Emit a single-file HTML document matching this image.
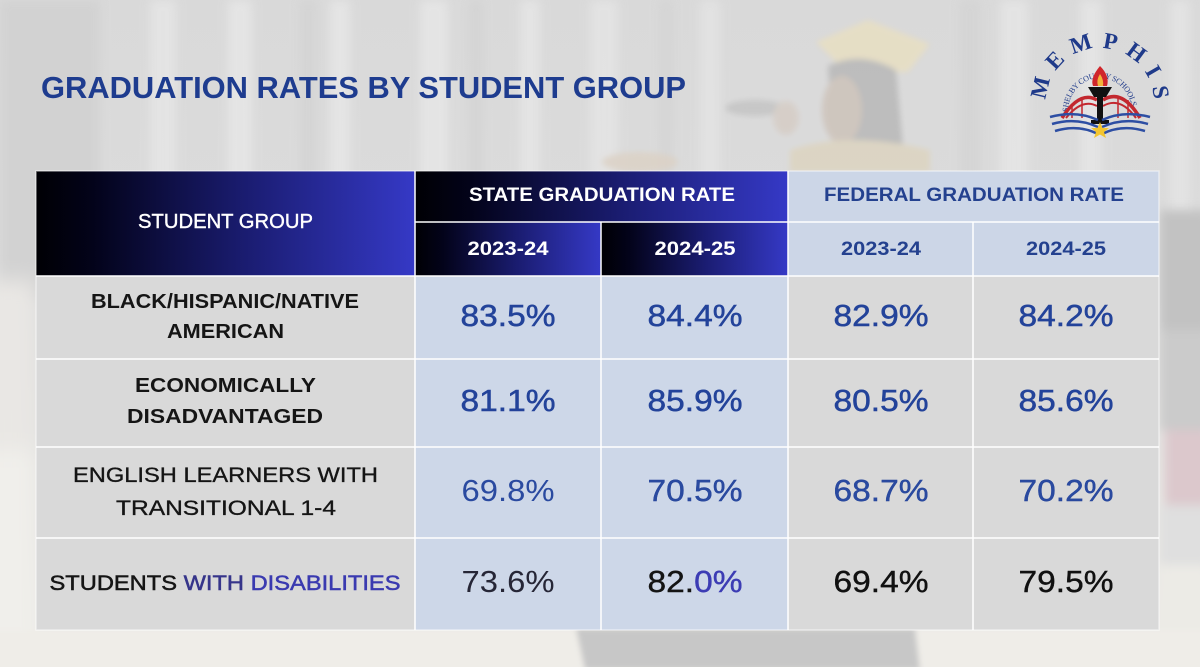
<!DOCTYPE html>
<html>
<head>
<meta charset="utf-8">
<style>
  html,body{margin:0;padding:0;background:#dcdcdc;}
  svg{display:block;}
  .lab{font-family:"Liberation Sans",sans-serif;font-weight:bold;fill:#151515;font-size:20px;}
  .labn{font-family:"Liberation Sans",sans-serif;font-weight:normal;fill:#151515;font-size:21px;stroke:#151515;stroke-width:0.35px;}
  .val{font-family:"Liberation Sans",sans-serif;font-size:31px;fill:#23439a;}
  .hd{font-family:"Liberation Sans",sans-serif;font-weight:bold;font-size:19px;fill:#ffffff;}
  .hdb{font-family:"Liberation Sans",sans-serif;font-weight:bold;font-size:19px;fill:#24418f;}
</style>
</head>
<body>
<svg width="1200" height="667" viewBox="0 0 1200 667" xmlns="http://www.w3.org/2000/svg">
  <defs>
    <linearGradient id="bgv" x1="0" y1="0" x2="0" y2="1">
      <stop offset="0" stop-color="#d9d9d9"/>
      <stop offset="0.45" stop-color="#dcdcdc"/>
      <stop offset="0.75" stop-color="#e7e6e3"/>
      <stop offset="1" stop-color="#eeece8"/>
    </linearGradient>
    <linearGradient id="dk" x1="0" y1="0" x2="1" y2="0">
      <stop offset="0" stop-color="#000004"/>
      <stop offset="0.15" stop-color="#03031a"/>
      <stop offset="0.55" stop-color="#1a1c70"/>
      <stop offset="1" stop-color="#3539c6"/>
    </linearGradient>
    <filter id="b6" x="-20%" y="-20%" width="140%" height="140%"><feGaussianBlur stdDeviation="5"/></filter>
    <filter id="b3" x="-20%" y="-20%" width="140%" height="140%"><feGaussianBlur stdDeviation="3"/></filter>
    <filter id="b10" x="-30%" y="-30%" width="160%" height="160%"><feGaussianBlur stdDeviation="10"/></filter>
    <path id="arcBig" d="M 1046,102 A 54,54 0 0 1 1154,102"/>
    <path id="arcSmall" d="M 1068,112 A 32,34 0 0 1 1132,112"/>
  </defs>

  <!-- background -->
  <rect x="0" y="0" width="1200" height="667" fill="url(#bgv)"/>
  <!-- curtain stripes -->
  <g filter="url(#b6)" opacity="0.9">
    <rect x="0" y="0" width="100" height="300" fill="#d2d2d2"/>
    <rect x="150" y="0" width="26" height="330" fill="#e5e5e5"/>
    <rect x="228" y="0" width="24" height="330" fill="#e6e6e6"/>
    <rect x="300" y="0" width="16" height="330" fill="#d4d4d4"/>
    <rect x="330" y="0" width="20" height="330" fill="#e6e6e6"/>
    <rect x="420" y="0" width="28" height="330" fill="#e6e6e6"/>
    <rect x="470" y="0" width="12" height="330" fill="#d3d3d3"/>
    <rect x="520" y="0" width="20" height="330" fill="#e5e5e5"/>
    <rect x="590" y="0" width="28" height="330" fill="#e4e4e4"/>
    <rect x="660" y="0" width="12" height="330" fill="#d4d4d4"/>
    <rect x="700" y="0" width="20" height="330" fill="#e3e3e3"/>
    <rect x="960" y="0" width="20" height="330" fill="#d4d4d4"/>
    <rect x="1000" y="0" width="28" height="330" fill="#e5e5e5"/>
    <rect x="1080" y="0" width="22" height="330" fill="#e5e5e5"/>
    <rect x="1170" y="0" width="20" height="330" fill="#e4e4e4"/>
  </g>
  <!-- graduate figure (faded) -->
  <g filter="url(#b3)" opacity="0.85">
    <polygon points="816,42 868,20 930,44 908,72 846,72" fill="#e8dfc2"/>
    <path d="M828,66 Q860,50 896,70 L905,170 L835,170 Z" fill="#b8b8b8"/>
    <ellipse cx="842" cy="110" rx="20" ry="34" fill="#cdc3ba"/>
    <ellipse cx="755" cy="108" rx="30" ry="8" fill="#c4c4c4"/>
    <ellipse cx="786" cy="118" rx="13" ry="17" fill="#d6cdc6"/>
    <path d="M790,150 Q850,130 930,150 L930,172 L790,172 Z" fill="#ddd4c0"/>
    <ellipse cx="640" cy="162" rx="38" ry="10" fill="#dcd2c6"/>
  </g>
  <!-- left side blobs -->
  <g filter="url(#b10)">
    <rect x="-20" y="280" width="56" height="170" fill="#e9e7e4"/>
    <rect x="-20" y="450" width="56" height="240" fill="#f0efeb"/>
  </g>
  <!-- right side figure -->
  <g filter="url(#b6)">
    <rect x="1160" y="210" width="50" height="120" fill="#c2c2c2"/>
    <rect x="1160" y="330" width="50" height="100" fill="#cbcbcb"/>
    <rect x="1165" y="430" width="45" height="75" fill="#dcc8cc"/>
    <rect x="1160" y="505" width="50" height="60" fill="#dfdfdf"/>
    <rect x="1160" y="565" width="50" height="110" fill="#ecebe6"/>
  </g>
  <!-- floor podium -->
  <g filter="url(#b3)">
    <rect x="-10" y="630" width="1220" height="50" fill="#efede8"/>
    <path d="M576,628 L915,628 L920,670 L585,670 Z" fill="#c7c7c7"/>
  </g>

  <!-- title -->
  <text x="41" y="98" textLength="645" lengthAdjust="spacingAndGlyphs" style="font-family:'Liberation Sans',sans-serif;font-weight:bold;font-size:31px;fill:#1e3c8f;">GRADUATION RATES BY STUDENT GROUP</text>

  <!-- logo -->
  <g>
    <text style="font-family:'Liberation Serif',serif;font-size:23px;fill:#1f3a8a;font-weight:bold;"><textPath href="#arcBig" startOffset="2" textLength="165" lengthAdjust="spacing">MEMPHIS</textPath></text>
    <text style="font-family:'Liberation Serif',serif;font-size:8px;fill:#1f3a8a;"><textPath href="#arcSmall" startOffset="0" textLength="98" lengthAdjust="spacing">SHELBY COUNTY SCHOOLS</textPath></text>
    <!-- bridge arcs -->
    <g fill="none" stroke="#c3282f">
      <path d="M1062,118 Q1080,90 1097,100" stroke-width="3.5"/>
      <path d="M1066,118 Q1082,98 1097,106" stroke-width="2"/>
      <path d="M1103,100 Q1122,88 1140,118" stroke-width="3.5"/>
      <path d="M1103,106 Q1120,96 1136,118" stroke-width="2"/>
      <path d="M1072,104 L1072,118 M1082,98 L1082,118 M1118,96 L1118,118 M1128,100 L1128,118" stroke-width="1.5"/>
    </g>
    <!-- flame -->
    <path d="M1100,66 Q1090,78 1093,86 L1107,86 Q1110,76 1100,66 Z" fill="#d0262b"/>
    <path d="M1100,74 Q1096,80 1098,86 L1103,86 Q1104,80 1100,74 Z" fill="#f2b33a"/>
    <!-- torch -->
    <path d="M1088,87 L1112,87 L1106,97 L1094,97 Z" fill="#111"/>
    <rect x="1097" y="97" width="6" height="26" fill="#111"/>
    <rect x="1091" y="120" width="18" height="4" fill="#111"/>
    <!-- book lines -->
    <g fill="none" stroke="#2d4ea3" stroke-width="2.5">
      <path d="M1050,117 Q1076,110 1098,120"/>
      <path d="M1052,124 Q1076,117 1098,127"/>
      <path d="M1055,131 Q1078,124 1098,134"/>
      <path d="M1150,117 Q1124,110 1102,120"/>
      <path d="M1148,124 Q1124,117 1102,127"/>
      <path d="M1145,131 Q1122,124 1102,134"/>
    </g>
    <polygon points="1100,122 1102.5,128 1109,128 1104,132 1106,138 1100,134.5 1094,138 1096,132 1091,128 1097.5,128" fill="#f3c530"/>
  </g>

  <!-- table cells -->
  <rect x="36" y="171" width="379" height="105" fill="url(#dk)"/>
  <rect x="415" y="171" width="373" height="51" fill="url(#dk)"/>
  <rect x="415" y="222" width="186" height="54" fill="url(#dk)"/>
  <rect x="601" y="222" width="187" height="54" fill="url(#dk)"/>
  <rect x="788" y="171" width="371" height="105" fill="#ccd6e7"/>
  <!-- body -->
  <rect x="36" y="276" width="379" height="354" fill="#d9d9d9"/>
  <rect x="415" y="276" width="373" height="354" fill="#cdd7e8"/>
  <rect x="788" y="276" width="371" height="354" fill="#d9d9d9"/>

  <!-- grid lines -->
  <g stroke="#ffffff" stroke-opacity="0.75" stroke-width="2" fill="none">
    <line x1="415" y1="171" x2="415" y2="630"/>
    <line x1="601" y1="222" x2="601" y2="630"/>
    <line x1="788" y1="171" x2="788" y2="630"/>
    <line x1="973" y1="222" x2="973" y2="630"/>
    <line x1="415" y1="222" x2="1159" y2="222"/>
    <line x1="36" y1="276" x2="1159" y2="276"/>
    <line x1="36" y1="359" x2="1159" y2="359"/>
    <line x1="36" y1="447" x2="1159" y2="447"/>
    <line x1="36" y1="538" x2="1159" y2="538"/>
    <rect x="36" y="171" width="1123" height="459" stroke-opacity="0.5" stroke-width="1.5"/>
  </g>

  <!-- header text -->
  <text class="hd" x="225.5" y="228" text-anchor="middle" textLength="175" lengthAdjust="spacingAndGlyphs" style="font-weight:normal;stroke:#fff;stroke-width:0.4px;font-size:20px;">STUDENT GROUP</text>
  <text class="hd" x="602" y="201" text-anchor="middle" textLength="266" lengthAdjust="spacingAndGlyphs">STATE GRADUATION RATE</text>
  <text class="hdb" x="974" y="201" text-anchor="middle" textLength="300" lengthAdjust="spacingAndGlyphs">FEDERAL GRADUATION RATE</text>
  <text class="hd" x="508" y="255" text-anchor="middle" textLength="81" lengthAdjust="spacingAndGlyphs">2023-24</text>
  <text class="hd" x="695" y="255" text-anchor="middle" textLength="81" lengthAdjust="spacingAndGlyphs">2024-25</text>
  <text class="hdb" x="881" y="255" text-anchor="middle" textLength="80" lengthAdjust="spacingAndGlyphs">2023-24</text>
  <text class="hdb" x="1066" y="255" text-anchor="middle" textLength="80" lengthAdjust="spacingAndGlyphs">2024-25</text>

  <!-- row labels -->
  <text class="lab" x="225" y="308" text-anchor="middle" textLength="268" lengthAdjust="spacingAndGlyphs">BLACK/HISPANIC/NATIVE</text>
  <text class="lab" x="225.5" y="338" text-anchor="middle" textLength="117" lengthAdjust="spacingAndGlyphs">AMERICAN</text>
  <text class="lab" x="225.5" y="392" text-anchor="middle" textLength="181" lengthAdjust="spacingAndGlyphs">ECONOMICALLY</text>
  <text class="lab" x="225" y="423" text-anchor="middle" textLength="196" lengthAdjust="spacingAndGlyphs">DISADVANTAGED</text>
  <text class="labn" x="225.5" y="482" text-anchor="middle" textLength="305" lengthAdjust="spacingAndGlyphs">ENGLISH LEARNERS WITH</text>
  <text class="labn" x="226" y="515" text-anchor="middle" textLength="220" lengthAdjust="spacingAndGlyphs">TRANSITIONAL 1-4</text>
  <text class="labn" x="225" y="590" text-anchor="middle" textLength="351" lengthAdjust="spacingAndGlyphs" style="stroke-width:0.5px;">STUDENTS <tspan style="fill:#36358a;stroke:#36358a;">WITH </tspan><tspan style="fill:#3a3ab0;stroke:#3a3ab0;">DISABILITIES</tspan></text>

  <!-- values -->
  <g class="val" style="stroke:#23439a;stroke-width:0.5px;">
    <text x="508" y="326" text-anchor="middle" textLength="95" lengthAdjust="spacingAndGlyphs">83.5%</text>
    <text x="695" y="326" text-anchor="middle" textLength="95" lengthAdjust="spacingAndGlyphs">84.4%</text>
    <text x="881" y="326" text-anchor="middle" textLength="95" lengthAdjust="spacingAndGlyphs">82.9%</text>
    <text x="1066" y="326" text-anchor="middle" textLength="95" lengthAdjust="spacingAndGlyphs">84.2%</text>
    <text x="508" y="411" text-anchor="middle" textLength="95" lengthAdjust="spacingAndGlyphs">81.1%</text>
    <text x="695" y="411" text-anchor="middle" textLength="95" lengthAdjust="spacingAndGlyphs">85.9%</text>
    <text x="881" y="411" text-anchor="middle" textLength="95" lengthAdjust="spacingAndGlyphs">80.5%</text>
    <text x="1066" y="411" text-anchor="middle" textLength="95" lengthAdjust="spacingAndGlyphs">85.6%</text>
  </g>
  <g class="val" style="fill:#2a4aa0;">
    <text x="508" y="501" text-anchor="middle" textLength="93" lengthAdjust="spacingAndGlyphs">69.8%</text>
    <text x="695" y="501" text-anchor="middle" textLength="95" lengthAdjust="spacingAndGlyphs" style="stroke:#23439a;stroke-width:0.4px;">70.5%</text>
    <text x="881" y="501" text-anchor="middle" textLength="95" lengthAdjust="spacingAndGlyphs" style="stroke:#23439a;stroke-width:0.4px;">68.7%</text>
    <text x="1066" y="501" text-anchor="middle" textLength="95" lengthAdjust="spacingAndGlyphs" style="stroke:#23439a;stroke-width:0.4px;">70.2%</text>
  </g>
  <g class="val">
    <text x="508" y="592" text-anchor="middle" textLength="93" lengthAdjust="spacingAndGlyphs" style="fill:#262636;">73.6%</text>
    <text x="695" y="592" text-anchor="middle" textLength="95" lengthAdjust="spacingAndGlyphs" style="fill:#141414;stroke:#141414;stroke-width:0.4px;">82.<tspan style="fill:#3c3cb4;stroke:#3c3cb4;">0%</tspan></text>
    <text x="881" y="592" text-anchor="middle" textLength="95" lengthAdjust="spacingAndGlyphs" style="fill:#111;stroke:#111;stroke-width:0.4px;">69.4%</text>
    <text x="1066" y="592" text-anchor="middle" textLength="95" lengthAdjust="spacingAndGlyphs" style="fill:#111;stroke:#111;stroke-width:0.4px;">79.5%</text>
  </g>
</svg>
</body>
</html>
